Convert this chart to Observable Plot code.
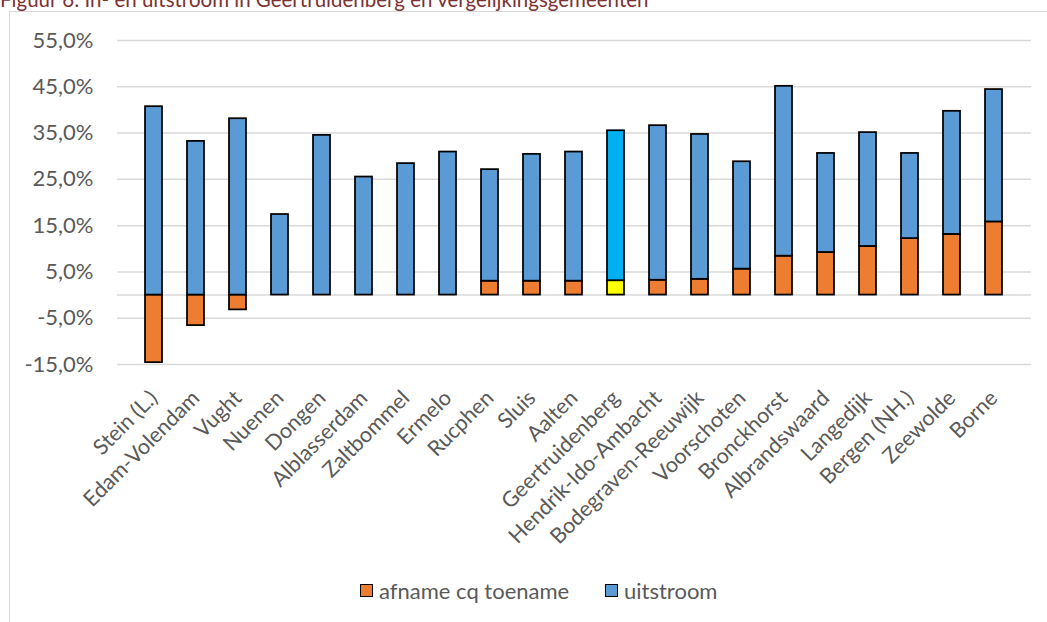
<!DOCTYPE html>
<html>
<head>
<meta charset="utf-8">
<script src="https://cdn.jsdelivr.net/npm/d3@7"></script>
<script src="https://cdn.jsdelivr.net/npm/@observablehq/plot@0.6"></script>
<style>
  html, body { margin: 0; padding: 0; background: #fff; overflow: hidden; width: 1047px; height: 622px; }
  #wrap { position: relative; width: 1047px; height: 622px; overflow: hidden; font-family: Lato, "Open Sans", sans-serif; }
  #title { position: absolute; left: 0; top: -11px; font-size: 20.5px; line-height: 20.5px; color: #7B3232; white-space: nowrap; }
  #frame { position: absolute; left: 9px; top: 11px; width: 1200px; height: 800px; border: 1.5px solid #D9D9D9; box-sizing: border-box; }
  #chart { position: absolute; left: 0; top: 0; }
  #legend { position: absolute; top: 577px; left: 0; width: 1047px; font-size: 22px; color: #595959; }
  .item { position: absolute; top: 0; display: flex; align-items: center; white-space: nowrap; }
  .sw { width: 11px; height: 11px; border: 1.5px solid #000; margin-right: 6px; }
</style>
</head>
<body>
<div id="wrap">
  <div id="title">Figuur 6: In- en uitstroom in Geertruidenberg en vergelijkingsgemeenten</div>
  <div id="frame"></div>
  <div id="chart"></div>
  <div id="legend"></div>
</div>
<script>
const gemeenten = ["Stein (L.)", "Edam-Volendam", "Vught", "Nuenen", "Dongen", "Alblasserdam", "Zaltbommel", "Ermelo", "Rucphen", "Sluis", "Aalten", "Geertruidenberg", "Hendrik-Ido-Ambacht", "Bodegraven-Reeuwijk", "Voorschoten", "Bronckhorst", "Albrandswaard", "Langedijk", "Bergen (NH.)", "Zeewolde", "Borne"];
const afnameToename = [-14.6, -6.6, -3.2, 0, 0, 0, 0, 0, 3.0, 3.0, 3.0, 3.1, 3.2, 3.4, 5.6, 8.4, 9.2, 10.5, 12.2, 13.1, 15.8];
const uitstroom = [40.7, 33.2, 38.1, 17.4, 34.5, 25.5, 28.4, 30.9, 24.1, 27.4, 27.9, 32.4, 33.4, 31.3, 23.2, 36.7, 21.4, 24.6, 18.4, 26.6, 28.6];
const series = ["afname cq toename", "uitstroom"];
const yTicks = [-15, -5, 5, 15, 25, 35, 45, 55];
const gridValues = [-15, -5, 0, 5, 15, 25, 35, 45, 55];
const highlight = "Geertruidenberg";

const rows = [];
gemeenten.forEach((g, i) => {
  rows.push({gemeente: g, serie: series[0], value: afnameToename[i]});
  rows.push({gemeente: g, serie: series[1], value: uitstroom[i]});
});

const colors = {
  "afname cq toename": "#ED7D31",
  "uitstroom": "#5B9BD5",
  "afname cq toename*": "#FFFF00",
  "uitstroom*": "#00B0F0"
};

const chart = Plot.plot({
  width: 1047,
  height: 622,
  marginLeft: 117,
  marginRight: 16,
  marginTop: 40,
  marginBottom: 258,
  style: {fontFamily: "Lato, 'Open Sans', sans-serif", fontSize: "22px", color: "#595959", background: "transparent"},
  x: {domain: gemeenten, padding: 0.585, label: null},
  y: {domain: [-15, 55], label: null},
  marks: [
    Plot.ruleY(gridValues, {stroke: "#D9D9D9", strokeWidth: 1.5}),
    Plot.barY(rows.filter(d => d.value !== 0), Plot.stackY({
      x: "gemeente",
      y: "value",
      z: "serie",
      order: null,
      fill: d => colors[d.serie + (d.gemeente === highlight ? "*" : "")],
      stroke: "#000",
      strokeWidth: 1.75
    })),
    Plot.axisY({ticks: yTicks, tickSize: 0, tickPadding: 24, tickFormat: d => d.toFixed(1).replace(".", ",") + "%", fontSize: 22, label: null}),
    Plot.axisX({tickSize: 0, tickPadding: 30, tickRotate: -45, fontSize: 21.5, label: null})
  ]
});
document.getElementById("chart").appendChild(chart);

const legend = document.getElementById("legend");
const legendPos = [360, 605];
series.forEach((s, i) => {
  const item = document.createElement("div");
  item.className = "item";
  item.style.left = legendPos[i] + "px";
  const sw = document.createElement("span");
  sw.className = "sw";
  sw.style.background = colors[s];
  const t = document.createElement("span");
  t.textContent = s;
  item.appendChild(sw);
  item.appendChild(t);
  legend.appendChild(item);
});
</script>
</body>
</html>
